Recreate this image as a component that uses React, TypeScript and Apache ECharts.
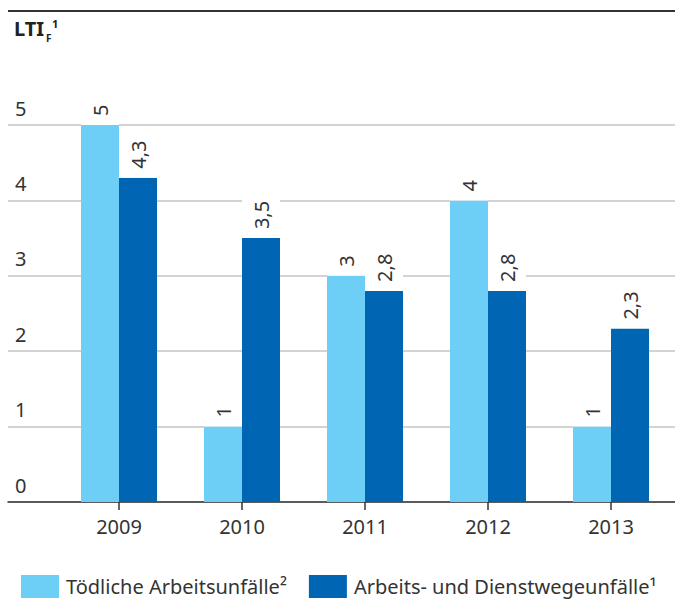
import React, { useEffect, useRef } from "react";
import * as echarts from "echarts";

const years = ["2009", "2010", "2011", "2012", "2013"];
const fatal = [5, 1, 3, 4, 1];
const workCommute = [4.3, 3.5, 2.8, 2.8, 2.3];
const seriesNames = ["Tödliche Arbeitsunfälle²", "Arbeits- und Dienstwegeunfälle¹"];
const yTicks = [0, 1, 2, 3, 4, 5];

const FONT = "'Noto Sans', sans-serif";
const LIGHT = "#6dcff6";
const DARK = "#0066b3";
const TEXT = "#333333";

export default function App() {
  const ref = useRef<HTMLDivElement>(null);
  useEffect(() => {
    if (!ref.current) return;
    const chart = echarts.init(ref.current, undefined, { renderer: "svg" });
    const labelCfg = {
      show: true,
      position: "top",
      distance: 0,
      rotate: 90,
      align: "left",
      verticalAlign: "middle",
      color: TEXT,
      fontSize: 20,
      fontFamily: FONT,
      backgroundColor: "#ffffff",
      padding: [9, 13, 9, 9],
      formatter: (p: any) => String(p.value).replace(".", ","),
    };
    chart.setOption({
      animation: false,
      textStyle: { fontFamily: FONT },
      grid: [
        { left: 8, right: 0, top: 125, bottom: 97 },
        { left: 57.5, right: 2.5, top: 125, bottom: 97 },
      ],
      xAxis: [
        {
          gridIndex: 0,
          type: "value",
          min: 0,
          max: 1,
          axisLine: { show: true, onZero: false, lineStyle: { color: TEXT, width: 1.5 } },
          axisTick: { show: false },
          axisLabel: { show: false },
          splitLine: { show: false },
        },
        {
          gridIndex: 1,
          type: "category",
          data: years,
          axisLine: { show: false },
          axisTick: { show: true, alignWithLabel: true, length: 8, lineStyle: { color: TEXT, width: 1.5 } },
          axisLabel: { color: TEXT, fontSize: 20, fontFamily: FONT, margin: 14 },
        },
      ],
      yAxis: [
        {
          gridIndex: 0,
          type: "value",
          min: yTicks[0],
          max: yTicks[yTicks.length - 1],
          interval: 1,
          axisLine: { show: false },
          axisTick: { show: false },
          axisLabel: {
            inside: true,
            margin: 7,
            color: TEXT,
            fontSize: 20,
            fontFamily: FONT,
            verticalAlign: "bottom",
            padding: [0, 0, 7, 0],
          },
          splitLine: { lineStyle: { color: "#c4c4c4", width: 1.5 } },
        },
        {
          gridIndex: 1,
          type: "value",
          min: yTicks[0],
          max: yTicks[yTicks.length - 1],
          interval: 1,
          show: false,
          splitLine: { show: false },
        },
      ],
      legend: {
        left: 21,
        top: 575,
        padding: 0,
        itemWidth: 38,
        itemHeight: 23,
        itemGap: 22,
        icon: "rect",
        textStyle: { color: TEXT, fontSize: 20, fontFamily: FONT, padding: [0, 0, 0, 2] },
        data: seriesNames,
      },
      series: [
        {
          name: seriesNames[0],
          type: "bar",
          xAxisIndex: 1,
          yAxisIndex: 1,
          data: fatal,
          barWidth: 38,
          barGap: "0%",
          itemStyle: { color: LIGHT },
          label: labelCfg,
        },
        {
          name: seriesNames[1],
          type: "bar",
          xAxisIndex: 1,
          yAxisIndex: 1,
          data: workCommute,
          barWidth: 38,
          barGap: "0%",
          itemStyle: { color: DARK },
          label: labelCfg,
        },
      ],
      graphic: [
        {
          type: "line",
          shape: { x1: 8, y1: 11, x2: 675, y2: 11 },
          style: { stroke: TEXT, lineWidth: 2 },
        },
        {
          type: "text",
          x: 14,
          y: 18,
          style: { text: "LTI", fontSize: 20, fontWeight: "bold", fontFamily: FONT, fill: "#222" },
        },
        {
          type: "text",
          x: 46,
          y: 33,
          style: { text: "F", fontSize: 10, fontWeight: "bold", fontFamily: FONT, fill: "#222" },
        },
        {
          type: "text",
          x: 52,
          y: 18,
          style: { text: "1", fontSize: 11, fontWeight: "bold", fontFamily: FONT, fill: "#222" },
        },
      ],
    });
    return () => chart.dispose();
  }, []);
  return <div ref={ref} style={{ width: 675, height: 599, position: "absolute", left: 0, top: 0 }} />;
}
